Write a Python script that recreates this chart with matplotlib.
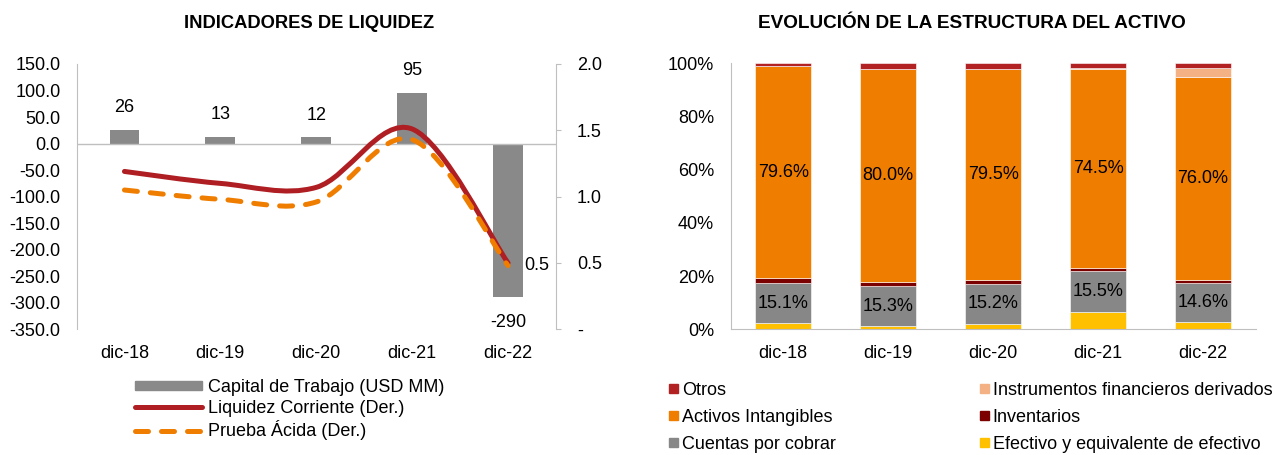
import numpy as np
import matplotlib.pyplot as plt
from matplotlib.path import Path
from matplotlib.patches import PathPatch, Patch
from matplotlib.lines import Line2D

plt.rcParams['font.family'] = ['Liberation Sans', 'DejaVu Sans']
plt.rcParams['axes.unicode_minus'] = False

# datos
years = ['dic-18', 'dic-19', 'dic-20', 'dic-21', 'dic-22']
capital_trabajo = [26, 13, 12, 95, -290]
liquidez_corriente = [1.19, 1.10, 1.07, 1.51, 0.50]
prueba_acida = [1.05, 0.98, 0.96, 1.43, 0.48]

# estructura del activo (%)
efectivo = [2.2, 1.1, 2.0, 6.5, 2.8]
cuentas = [15.1, 15.3, 15.2, 15.5, 14.6]
inventarios = [1.9, 1.5, 1.3, 1.2, 1.3]
intangibles = [79.6, 80.0, 79.5, 74.5, 76.0]
derivados = [0.0, 0.0, 0.0, 0.6, 3.6]
otros = [1.2, 2.1, 2.0, 1.7, 1.7]

GRAY = '#898989'
RED = '#AE1E22'
ORANGE = '#EF7D00'
SPINE = '#BFBFBF'
FS = 13

W, H = 1283, 455


def smooth_path(xs, ys):
    # curva bezier suavizada tipo Excel
    pts = np.column_stack([xs, ys]).astype(float)
    n = len(pts)
    verts = [pts[0]]
    codes = [Path.MOVETO]
    for i in range(n - 1):
        p0 = pts[max(i - 1, 0)]
        p1 = pts[i]
        p2 = pts[i + 1]
        p3 = pts[min(i + 2, n - 1)]
        verts += [p1 + (p2 - p0) / 6, p2 - (p3 - p1) / 6, p2]
        codes += [Path.CURVE4] * 3
    return Path(verts, codes)


def ax_rect(x0, x1, y0, y1):
    return [x0 / W, 1 - y1 / H, (x1 - x0) / W, (y1 - y0) / H]


fig = plt.figure(figsize=(W / 100, H / 100), dpi=100)
x = np.arange(len(years))

# ---------------- Indicadores de liquidez ----------------
ax1 = fig.add_axes(ax_rect(76.5, 556, 64, 329.3))
ax1.bar(x, capital_trabajo, width=0.31, color=GRAY, zorder=2)
ax1.axhline(0, color=SPINE, lw=1, zorder=3)
ax1.set_xlim(-0.5, 4.5)
ax1.set_ylim(-350, 150)
yt = np.arange(-350, 151, 50)
ax1.set_yticks(yt)
ax1.set_yticklabels(['%.1f' % v for v in yt], fontsize=FS)
ax1.set_xticks(x)
ax1.set_xticklabels(years, fontsize=FS)
ax1.tick_params(axis='y', length=0, pad=11.5)
ax1.tick_params(axis='x', length=0, pad=11.5)
for s in ['top', 'bottom', 'right']:
    ax1.spines[s].set_visible(False)
ax1.spines['left'].set_color(SPINE)

for i, v in enumerate(capital_trabajo):
    off = 16 if v >= 0 else -18
    ax1.annotate(str(v), (i, v), xytext=(0, off), textcoords='offset points',
                 ha='center', va='center', fontsize=FS)

ax2 = ax1.twinx()
ax2.set_ylim(0, 2.0)
ax2.set_xlim(-0.5, 4.5)
rt = [0, 0.5, 1.0, 1.5, 2.0]
ax2.set_yticks(rt)
ax2.set_yticklabels(['-'] + ['%.1f' % v for v in rt[1:]], fontsize=FS)
ax2.tick_params(axis='y', length=3.6, color=SPINE, pad=11.5)
for s in ['top', 'bottom', 'left']:
    ax2.spines[s].set_visible(False)
ax2.spines['right'].set_color(SPINE)

ax2.add_patch(PathPatch(smooth_path(x, liquidez_corriente), fill=False,
                        edgecolor=RED, lw=3.6, capstyle='round', zorder=4))
ax2.add_patch(PathPatch(smooth_path(x, prueba_acida), fill=False,
                        edgecolor=ORANGE, lw=3.6, capstyle='round',
                        linestyle=(0, (2.6, 2.6)), zorder=5))
ax2.annotate('%.1f' % liquidez_corriente[-1], (4, liquidez_corriente[-1]),
             xytext=(12, -2), textcoords='offset points', ha='left', va='center',
             fontsize=FS)

fig.text(309 / W, 1 - 23 / H, 'INDICADORES DE LIQUIDEZ', ha='center', va='center',
         fontsize=13.2, fontweight='bold')

h_left = [Patch(color=GRAY),
          Line2D([], [], color=RED, lw=3.6, solid_capstyle='round'),
          Line2D([], [], color=ORANGE, lw=3.6, dash_capstyle='round',
                 linestyle=(0, (2.6, 2.6)))]
l_left = ['Capital de Trabajo (USD MM)', 'Liquidez Corriente (Der.)', 'Prueba Ácida (Der.)']
fig.legend(h_left, l_left, loc='upper left', bbox_to_anchor=(135 / W, 1 - 379 / H),
           frameon=False, fontsize=FS, handlelength=3.7, handleheight=0.45,
           handletextpad=0.33, labelspacing=0.2, borderpad=0, borderaxespad=0)

# ---------------- Estructura del activo ----------------
ax3 = fig.add_axes(ax_rect(730.7, 1255.6, 63.3, 329.3))
series = [
    ('Efectivo y equivalente de efectivo', efectivo, '#FFC000'),
    ('Cuentas por cobrar', cuentas, '#878787'),
    ('Inventarios', inventarios, '#7B0000'),
    ('Activos Intangibles', intangibles, ORANGE),
    ('Instrumentos financieros derivados', derivados, '#F4B183'),
    ('Otros', otros, '#B22222'),
]
bottom = np.zeros(len(years))
handles = {}
for name, vals, col in series:
    vals = np.array(vals)
    ax3.bar(x, vals, bottom=bottom, width=0.53, color=col,
            edgecolor='white', linewidth=0.4, zorder=2)
    handles[name] = Patch(color=col)
    if name in ('Cuentas por cobrar', 'Activos Intangibles'):
        for i, v in enumerate(vals):
            ax3.text(i, bottom[i] + v / 2, '%.1f%%' % v, ha='center', va='center',
                     fontsize=FS, zorder=3)
    bottom += vals

ax3.set_xlim(-0.5, 4.5)
ax3.set_ylim(0, 100)
ax3.set_yticks(np.arange(0, 101, 20))
ax3.set_yticklabels(['%d%%' % v for v in range(0, 101, 20)], fontsize=FS)
ax3.set_xticks(x)
ax3.set_xticklabels(years, fontsize=FS)
ax3.tick_params(axis='y', length=0, pad=12)
ax3.tick_params(axis='x', length=0, pad=11.5)
for s in ['top', 'right']:
    ax3.spines[s].set_visible(False)
ax3.spines['left'].set_color(SPINE)
ax3.spines['bottom'].set_color(SPINE)

fig.text(972 / W, 1 - 23 / H, 'EVOLUCIÓN DE LA ESTRUCTURA DEL ACTIVO', ha='center',
         va='center', fontsize=13.7, fontweight='bold')

order = ['Otros', 'Activos Intangibles', 'Cuentas por cobrar',
         'Instrumentos financieros derivados', 'Inventarios',
         'Efectivo y equivalente de efectivo']
fig.legend([handles[n] for n in order], order, ncol=2, loc='upper left',
           bbox_to_anchor=(669 / W, 1 - 382 / H), frameon=False, fontsize=FS,
           handlelength=0.5, handleheight=0.45, handletextpad=0.2,
           columnspacing=8, labelspacing=0.55, borderpad=0, borderaxespad=0)

fig.savefig('out.png', dpi=100)
